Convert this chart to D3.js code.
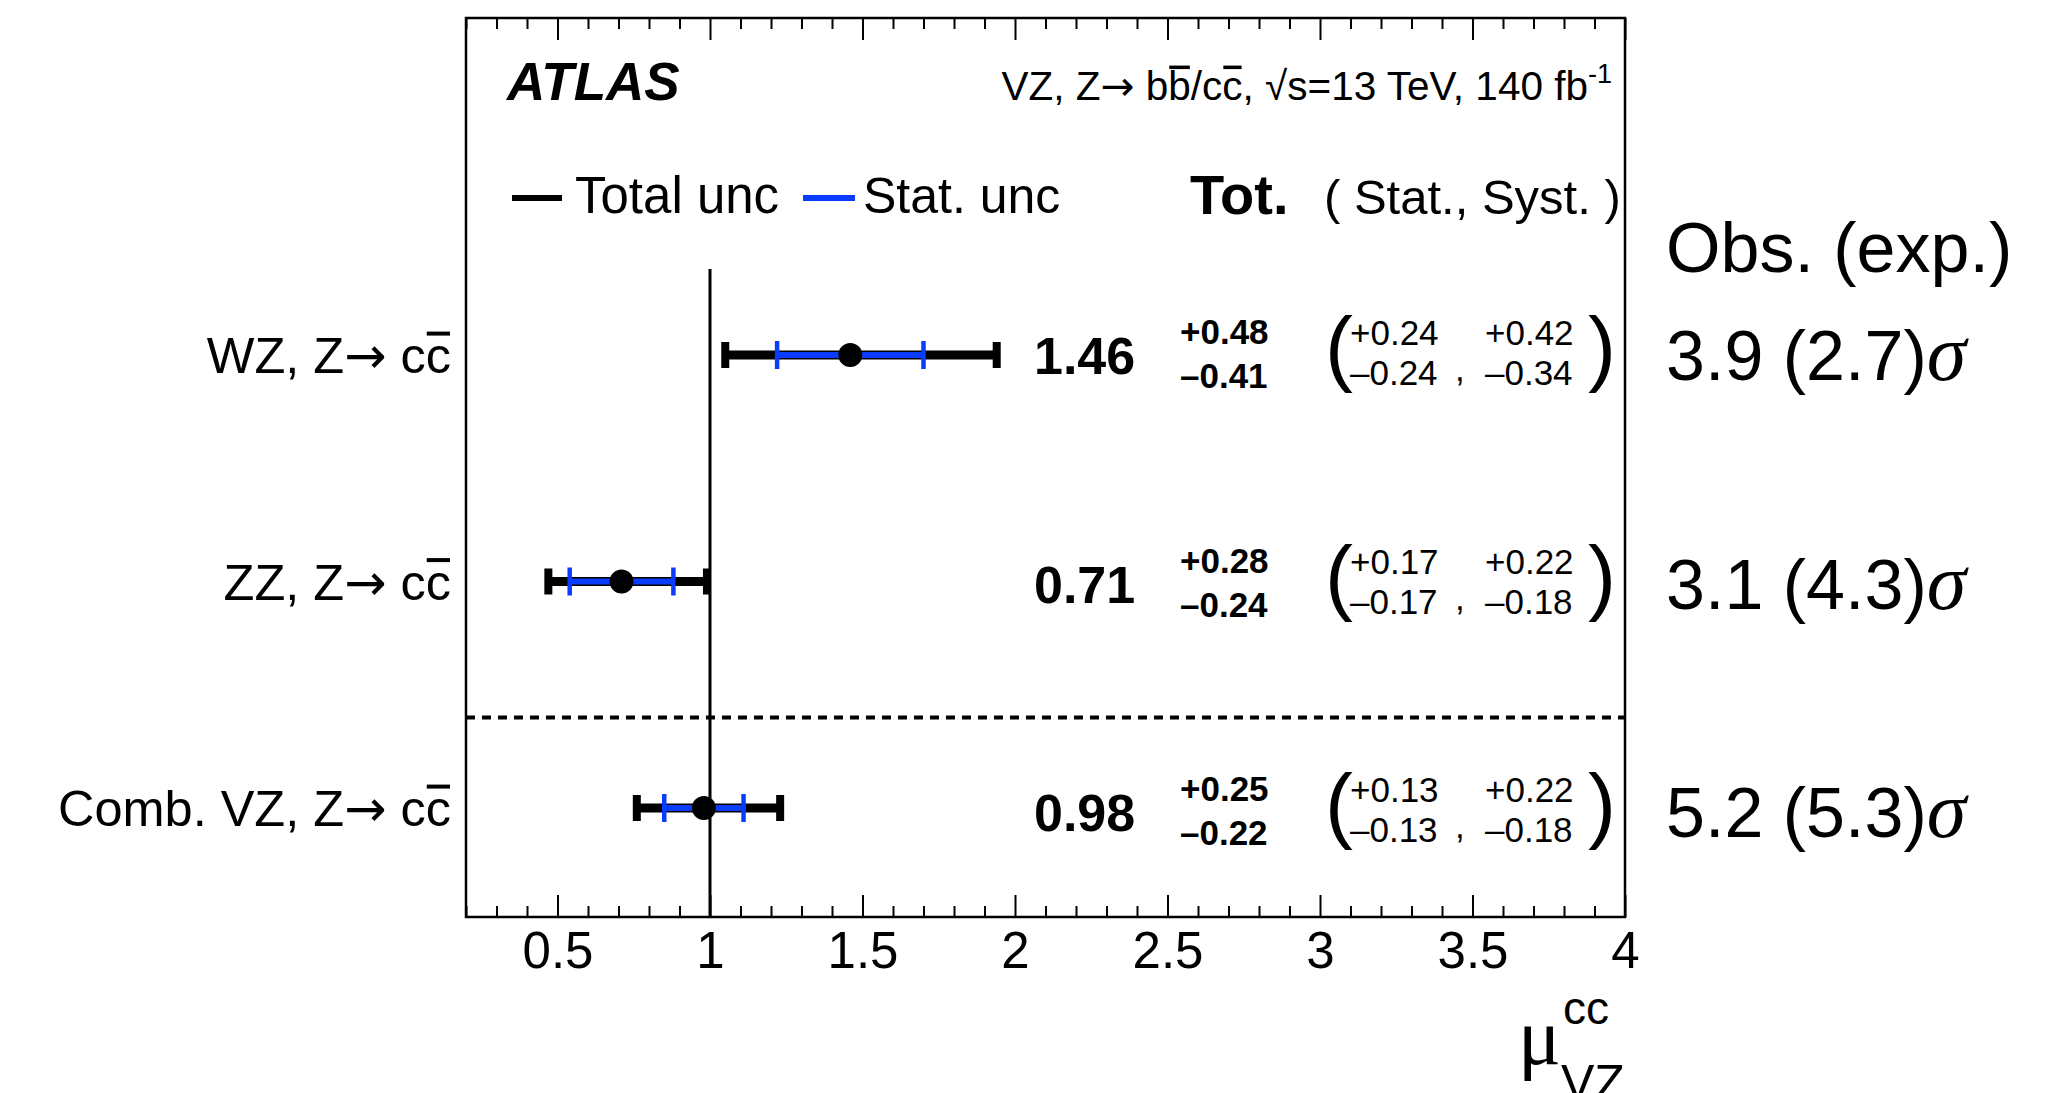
<!DOCTYPE html>
<html><head><meta charset="utf-8">
<script src="https://cdn.jsdelivr.net/npm/d3@7"></script>
<style>body{margin:0;background:#fff;overflow:hidden} svg text{font-family:"Liberation Sans",Arial,Helvetica,sans-serif;fill:#000}</style>
</head><body><svg id="c" width="2060" height="1093"></svg>
<script>
// ---- data ----
const categories = ["WZ", "ZZ", "Comb. VZ"];
const mu = [1.46, 0.71, 0.98];
const totUp = [0.48, 0.28, 0.25];
const totDn = [0.41, 0.24, 0.22];
const statUp = [0.24, 0.17, 0.13];
const statDn = [0.24, 0.17, 0.13];
const systUp = [0.42, 0.22, 0.22];
const systDn = [0.34, 0.18, 0.18];
const obsSig = ["3.9", "3.1", "5.2"];
const expSig = ["2.7", "4.3", "5.3"];
const xTickValues = [0.5, 1, 1.5, 2, 2.5, 3, 3.5, 4];
const xTickLabels = ["0.5", "1", "1.5", "2", "2.5", "3", "3.5", "4"];
const xDomain = [0.2, 4];
const refValue = 1;
const separatorPos = 1.6;   // in row units
const refLineTop = -0.38;   // in row units

// ---- layout ----
const svg = d3.select("#c");
const X0 = 466, X1 = 1625, Y0 = 18, Y1 = 917;
const x = d3.scaleLinear().domain(xDomain).range([X0, X1]);
const y = d3.scaleLinear().domain([0, 2]).range([355, 808]);
const yt = d3.scaleLinear().domain([0, 2]).range([355, 812]);
const BLUE = "#0a3cff";
const SANS = "'Liberation Sans',Arial,sans-serif";
const SERIF = "'Liberation Serif','Times New Roman',serif";
const ARROWF = "'DejaVu Sans',sans-serif";

function richText(g, px, py, segs, o) {
  const t = g.append("text").attr("x", px).attr("y", py).attr("font-size", o.size)
    .attr("text-anchor", o.anchor || "start");
  if (o.weight) t.attr("font-weight", o.weight);
  if (o.style) t.attr("font-style", o.style);
  let idx = 0; const ovl = [];
  segs.forEach(s => {
    const ts = t.append("tspan").text(s.t);
    if (s.family) ts.attr("font-family", s.family);
    if (s.size) ts.attr("font-size", s.size);
    if (s.dy !== undefined) ts.attr("dy", s.dy);
    if (s.style) ts.attr("font-style", s.style);
    if (s.weight) ts.attr("font-weight", s.weight);
    if (s.ovl) ovl.push(idx);
    idx += s.t.length;
  });
  const n = t.node();
  ovl.forEach(i => {
    const a = n.getStartPositionOfChar(i), b = n.getEndPositionOfChar(i);
    g.append("rect").attr("x", a.x + 1).attr("width", Math.max(1, b.x - a.x - 2))
      .attr("y", a.y - o.size * (o.ovlY || 0.8)).attr("height", o.ovlH || 3).attr("fill", "#000");
  });
  return t;
}

// frame & axes
const gAx = svg.append("g");
const minor = d3.range(2, 41).map(v => v / 10).filter(v => !xTickValues.some(m => Math.abs(m - v) < 1e-9));
gAx.append("g").attr("transform", `translate(0,${Y1})`)
  .call(d3.axisBottom(x).tickValues(minor).tickSize(-11).tickFormat(""))
  .call(g => { g.select(".domain").remove(); g.selectAll("line").attr("stroke-width", 2); });
gAx.append("g").attr("transform", `translate(0,${Y1})`)
  .call(d3.axisBottom(x).tickValues(xTickValues).tickSize(-22).tickPadding(15)
    .tickFormat((d, i) => xTickLabels[i]))
  .call(g => {
    g.select(".domain").remove(); g.selectAll("line").attr("stroke-width", 2);
    g.selectAll("text").attr("font-size", 51).attr("font-family", SANS);
  });
gAx.append("g").attr("transform", `translate(0,${Y0})`)
  .call(d3.axisTop(x).tickValues(minor).tickSize(-11).tickFormat(""))
  .call(g => { g.select(".domain").remove(); g.selectAll("line").attr("stroke-width", 2); });
gAx.append("g").attr("transform", `translate(0,${Y0})`)
  .call(d3.axisTop(x).tickValues(xTickValues).tickSize(-22).tickFormat(""))
  .call(g => { g.select(".domain").remove(); g.selectAll("line").attr("stroke-width", 2); });
svg.append("rect").attr("x", X0).attr("y", Y0).attr("width", X1 - X0).attr("height", Y1 - Y0)
  .attr("fill", "none").attr("stroke", "#000").attr("stroke-width", 2.5);

// reference & separator lines
svg.append("line").attr("x1", x(refValue)).attr("x2", x(refValue)).attr("y1", y(refLineTop)).attr("y2", Y1)
  .attr("stroke", "#000").attr("stroke-width", 3);
svg.append("line").attr("x1", X0).attr("x2", X1).attr("y1", y(separatorPos)).attr("y2", y(separatorPos))
  .attr("stroke", "#000").attr("stroke-width", 4).attr("stroke-dasharray", "9,7");

// error bars
const gB = svg.append("g");
mu.forEach((m, i) => {
  const cy = y(i);
  const lo = x(m - totDn[i]), hi = x(m + totUp[i]);
  gB.append("line").attr("x1", lo).attr("x2", hi).attr("y1", cy).attr("y2", cy).attr("stroke", "#000").attr("stroke-width", 9);
  [lo, hi].forEach(px => gB.append("line").attr("x1", px).attr("x2", px).attr("y1", cy - 13).attr("y2", cy + 13)
    .attr("stroke", "#000").attr("stroke-width", 8));
  const slo = x(m - statDn[i]), shi = x(m + statUp[i]);
  gB.append("line").attr("x1", slo).attr("x2", shi).attr("y1", cy).attr("y2", cy).attr("stroke", BLUE).attr("stroke-width", 6);
  [slo, shi].forEach(px => gB.append("line").attr("x1", px).attr("x2", px).attr("y1", cy - 14).attr("y2", cy + 14)
    .attr("stroke", BLUE).attr("stroke-width", 4.5));
  gB.append("circle").attr("cx", x(m)).attr("cy", cy).attr("r", 12).attr("fill", "#000");
});

// texts
const gT = svg.append("g");
richText(gT, 507, 100, [{ t: "ATLAS" }], { size: 53, weight: "bold", style: "italic" });
richText(gT, 1612, 100, [
  { t: "VZ, Z" }, { t: "→", family: ARROWF }, { t: " b" }, { t: "b", ovl: true }, { t: "/c" }, { t: "c", ovl: true },
  { t: ", " }, { t: "√", family: SANS }, { t: "s=13 TeV, 140 fb" }, { t: "-1", size: 27, dy: -17 }
], { size: 40.5, anchor: "end", ovlY: 0.85, ovlH: 3.5 });

// legend
gT.append("line").attr("x1", 512).attr("x2", 562).attr("y1", 198).attr("y2", 198).attr("stroke", "#000").attr("stroke-width", 6);
richText(gT, 575, 213, [{ t: "Total unc" }], { size: 51 });
gT.append("line").attr("x1", 803).attr("x2", 855).attr("y1", 198).attr("y2", 198).attr("stroke", BLUE).attr("stroke-width", 6);
richText(gT, 863, 213, [{ t: "Stat. unc" }], { size: 50 });
richText(gT, 1190, 214, [{ t: "Tot." }], { size: 56, weight: "bold" });
richText(gT, 1324, 214, [{ t: "( Stat., Syst. )" }], { size: 49 });
richText(gT, 1666, 272, [{ t: "Obs. (exp.)" }], { size: 70 });

// row labels and numbers
categories.forEach((c, i) => {
  const cy = y(i), ty = yt(i);
  richText(gT, 451, cy + 18, [{ t: c + ", Z" }, { t: "→", family: ARROWF }, { t: " c" }, { t: "c", ovl: true }],
    { size: 50.5, anchor: "end", ovlY: 0.82, ovlH: 4 });
  richText(gT, 1034, ty + 19, [{ t: mu[i].toFixed(2) }], { size: 52, weight: "bold" });
  richText(gT, 1180, ty - 11, [{ t: "+" + totUp[i].toFixed(2) }], { size: 35, weight: "bold" });
  richText(gT, 1180, ty + 33, [{ t: "\u2013" + totDn[i].toFixed(2) }], { size: 35, weight: "bold" });
  richText(gT, 1325, ty + 21, [{ t: "(" }], { size: 84 });
  richText(gT, 1350, ty - 10, [{ t: "+" + statUp[i].toFixed(2) }], { size: 35 });
  richText(gT, 1350, ty + 30, [{ t: "\u2013" + statDn[i].toFixed(2) }], { size: 35 });
  richText(gT, 1455, ty + 26, [{ t: "," }], { size: 35 });
  richText(gT, 1485, ty - 10, [{ t: "+" + systUp[i].toFixed(2) }], { size: 35 });
  richText(gT, 1485, ty + 30, [{ t: "\u2013" + systDn[i].toFixed(2) }], { size: 35 });
  richText(gT, 1588, ty + 21, [{ t: ")" }], { size: 84 });
  richText(gT, 1666, ty + 25, [{ t: obsSig[i] + " (" + expSig[i] + ")" }, { t: "σ", family: SERIF, style: "italic", size: 80 }], { size: 70 });
});

// axis title
richText(gT, 1518, 1064, [{ t: "μ", family: SERIF }], { size: 80 });
richText(gT, 1563, 1024, [{ t: "cc" }], { size: 46 });
richText(gT, 1561, 1100, [{ t: "VZ" }], { size: 50 });
</script></body></html>
